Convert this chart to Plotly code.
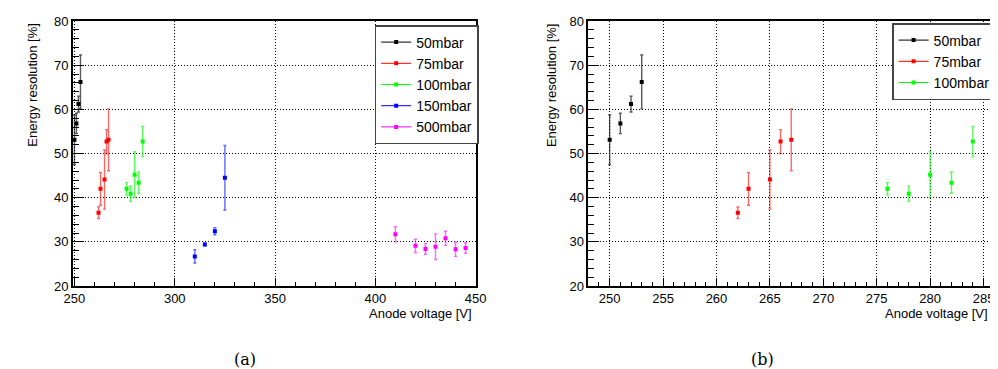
import plotly.graph_objects as go

# ---------------- data ----------------
series_names = ["50mbar", "75mbar", "100mbar", "150mbar", "500mbar"]
colors = ["#000000", "#ff0000", "#00ff00", "#0000ff", "#ff00ff"]
err_colors = ["rgba(0,0,0,0.65)", "rgba(255,0,0,0.6)", "rgba(0,255,0,0.65)",
              "rgba(0,0,255,0.6)", "rgba(255,0,255,0.6)"]

v_50 = [250, 251, 252, 253]
r_50 = [53.1, 56.8, 61.2, 66.2]
e_50 = [5.6, 2.3, 1.8, 6.1]

v_75 = [262, 263, 265, 266, 267]
r_75 = [36.6, 42.0, 44.1, 52.7, 53.1]
e_75 = [1.3, 3.7, 6.7, 2.7, 7.0]

v_100 = [276, 278, 280, 282, 284]
r_100 = [42.0, 40.9, 45.2, 43.4, 52.7]
e_100 = [1.4, 1.7, 5.2, 2.4, 3.4]

v_150 = [310, 315, 320, 325]
r_150 = [26.7, 29.4, 32.4, 44.5]
e_150 = [1.5, 0.3, 0.8, 7.3]

v_500 = [410, 420, 425, 430, 435, 440, 445]
r_500 = [31.7, 29.1, 28.4, 28.9, 30.8, 28.3, 28.6]
e_500 = [1.7, 1.5, 1.2, 2.9, 1.6, 1.6, 1.2]

xs = [v_50, v_75, v_100, v_150, v_500]
ys = [r_50, r_75, r_100, r_150, r_500]
es = [e_50, e_75, e_100, e_150, e_500]

y_ticks = [20, 30, 40, 50, 60, 70, 80]
x_ticks_left = [250, 300, 350, 400, 450]
x_ticks_right = [250, 255, 260, 265, 270, 275, 280, 285]

x_title = "Anode voltage [V]"
y_title = "Energy resolution [%]"
captions = ["(a)", "(b)"]

# ---------------- figure ----------------
W, H = 998, 369
fig = go.Figure()

font = "Liberation Sans, Arial, Helvetica, sans-serif"

def add_series(idx, xa, ya, legend):
    fig.add_trace(go.Scatter(
        x=xs[idx], y=ys[idx], mode="markers", xaxis=xa, yaxis=ya,
        marker=dict(symbol="square", size=4, color=colors[idx]),
        error_y=dict(type="data", array=es[idx], visible=True,
                     color=err_colors[idx], thickness=1.4, width=1.5),
        showlegend=False, hoverinfo="x+y"))
    fig.add_trace(go.Scatter(
        x=[None], y=[None], mode="lines+markers", xaxis=xa, yaxis=ya,
        name=series_names[idx], legend=legend,
        line=dict(color=colors[idx], width=1),
        marker=dict(symbol="square", size=4, color=colors[idx]),
        showlegend=True))

for i in range(5):
    add_series(i, "x", "y", "legend")
for i in range(3):
    add_series(i, "x2", "y2", "legend2")

top, bottom = 13, 278
ph = bottom - top

common_axis = dict(showline=True, linecolor="black", linewidth=1.5, mirror=True,
                   ticks="inside", tickcolor="black", showgrid=True,
                   gridcolor="black", griddash="1px,2px", gridwidth=1,
                   zeroline=False, tickfont=dict(family=font, size=13, color="black"))

fig.update_layout(
    width=W, height=H,
    margin=dict(l=0, r=0, t=top, b=H - bottom),
    paper_bgcolor="white", plot_bgcolor="white",
    xaxis=dict(domain=[57 / W, 468 / W], range=[249.2, 450], tickvals=x_ticks_left,
               ticklen=8, minor=dict(dtick=10, ticklen=4, ticks="inside", tickcolor="black", showgrid=False),
               anchor="y", **common_axis),
    yaxis=dict(domain=[0, 1], range=[20, 80], tickvals=y_ticks, ticklen=11,
               minor=dict(dtick=2, ticklen=6, ticks="inside", tickcolor="black", showgrid=False),
               anchor="x", **common_axis),
    xaxis2=dict(domain=[583 / W, 995 / W], range=[248, 285.8], tickvals=x_ticks_right,
                ticklen=8, minor=dict(dtick=1, ticklen=4, ticks="inside", tickcolor="black", showgrid=False),
                anchor="y2", **common_axis),
    yaxis2=dict(domain=[0, 1], range=[20, 80], tickvals=y_ticks, ticklen=11,
                minor=dict(dtick=2, ticklen=6, ticks="inside", tickcolor="black", showgrid=False),
                anchor="x2", **common_axis),
    legend=dict(x=365 / W, y=(bottom - 17) / ph, xanchor="left", yanchor="top",
                bgcolor="white", bordercolor="#444", borderwidth=1.5,
                font=dict(family=font, size=14, color="black"),
                itemwidth=30, tracegroupgap=0),
    legend2=dict(x=893 / W, y=(bottom - 15) / ph, xanchor="left", yanchor="top",
                 bgcolor="white", bordercolor="#444", borderwidth=1.5,
                 font=dict(family=font, size=14, color="black"),
                 itemwidth=30, tracegroupgap=0),
)

ann = []
for xr in [466, 993]:
    ann.append(dict(text=x_title, xref="paper", yref="paper",
                    x=xr / W, y=(bottom - 305) / ph, xanchor="right", yanchor="middle",
                    showarrow=False, font=dict(family=font, size=13, color="black")))
for xc in [15, 545]:
    ann.append(dict(text=y_title, xref="paper", yref="paper", textangle=-90,
                    x=xc / W, y=1.0, xanchor="center", yanchor="top",
                    showarrow=False, font=dict(family=font, size=13, color="black")))
for cap, xc in zip(captions, [233, 761]):
    ann.append(dict(text=cap, xref="paper", yref="paper",
                    x=xc / W, y=(bottom - 351) / ph, xanchor="center", yanchor="middle",
                    showarrow=False, font=dict(family="DejaVu Serif, Liberation Serif, serif", size=16, color="black")))
fig.update_layout(annotations=ann)

fig.write_html("out.html")
